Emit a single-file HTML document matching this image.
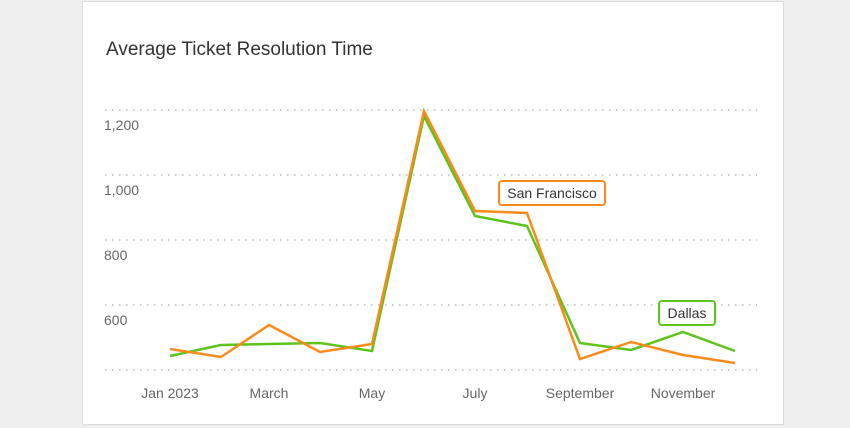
<!DOCTYPE html>
<html><head><style>
body{margin:0;width:850px;height:428px;background:#efefef;overflow:hidden;font-family:"Liberation Sans",sans-serif}
.card{position:absolute;left:82px;top:1px;width:700px;height:422px;background:#fff;border:1px solid #ddd}
</style></head><body>
<div class="card"></div>
<svg width="850" height="428" style="position:absolute;left:0;top:0" font-family="Liberation Sans, sans-serif">
<text x="106" y="55" font-size="19" fill="#333">Average Ticket Resolution Time</text>
<g stroke="#ccc" stroke-width="2" stroke-dasharray="1.5 5.5">
<line x1="105" y1="110" x2="757" y2="110"/><line x1="105" y1="175" x2="757" y2="175"/>
<line x1="105" y1="240" x2="757" y2="240"/><line x1="105" y1="305" x2="757" y2="305"/>
<line x1="105" y1="370" x2="757" y2="370"/></g>
<g font-size="14" fill="#666">
<text x="104" y="130">1,200</text><text x="104" y="195">1,000</text><text x="104" y="260">800</text><text x="104" y="325">600</text>
<g text-anchor="middle"><text x="170" y="398">Jan 2023</text><text x="269" y="398">March</text><text x="372" y="398">May</text><text x="475" y="398">July</text><text x="580" y="398">September</text><text x="683" y="398">November</text></g></g>
<polyline fill="none" stroke="#5cc41b" stroke-width="2.5" points="170,356 221,345 269,344 320,343 372,351 424,116 475,216 527,226 580,343 631,350 683,332 735,351"/>
<polyline fill="none" stroke="#fb8a1c" stroke-width="2.5" points="170,349 221,357 269,325 320,352 372,344 424,111 475,211 527,213 580,359 631,342 683,355 735,363"/>
<rect x="499" y="181" width="106" height="24" rx="3" fill="#fff" stroke="#fb8a1c" stroke-width="2"/>
<text x="552" y="198" font-size="14" fill="#333" text-anchor="middle">San Francisco</text>
<rect x="659" y="301" width="56" height="24" rx="3" fill="#fff" stroke="#5cc41b" stroke-width="2"/>
<text x="687" y="318" font-size="14" fill="#333" text-anchor="middle">Dallas</text>
</svg>
</body></html>
